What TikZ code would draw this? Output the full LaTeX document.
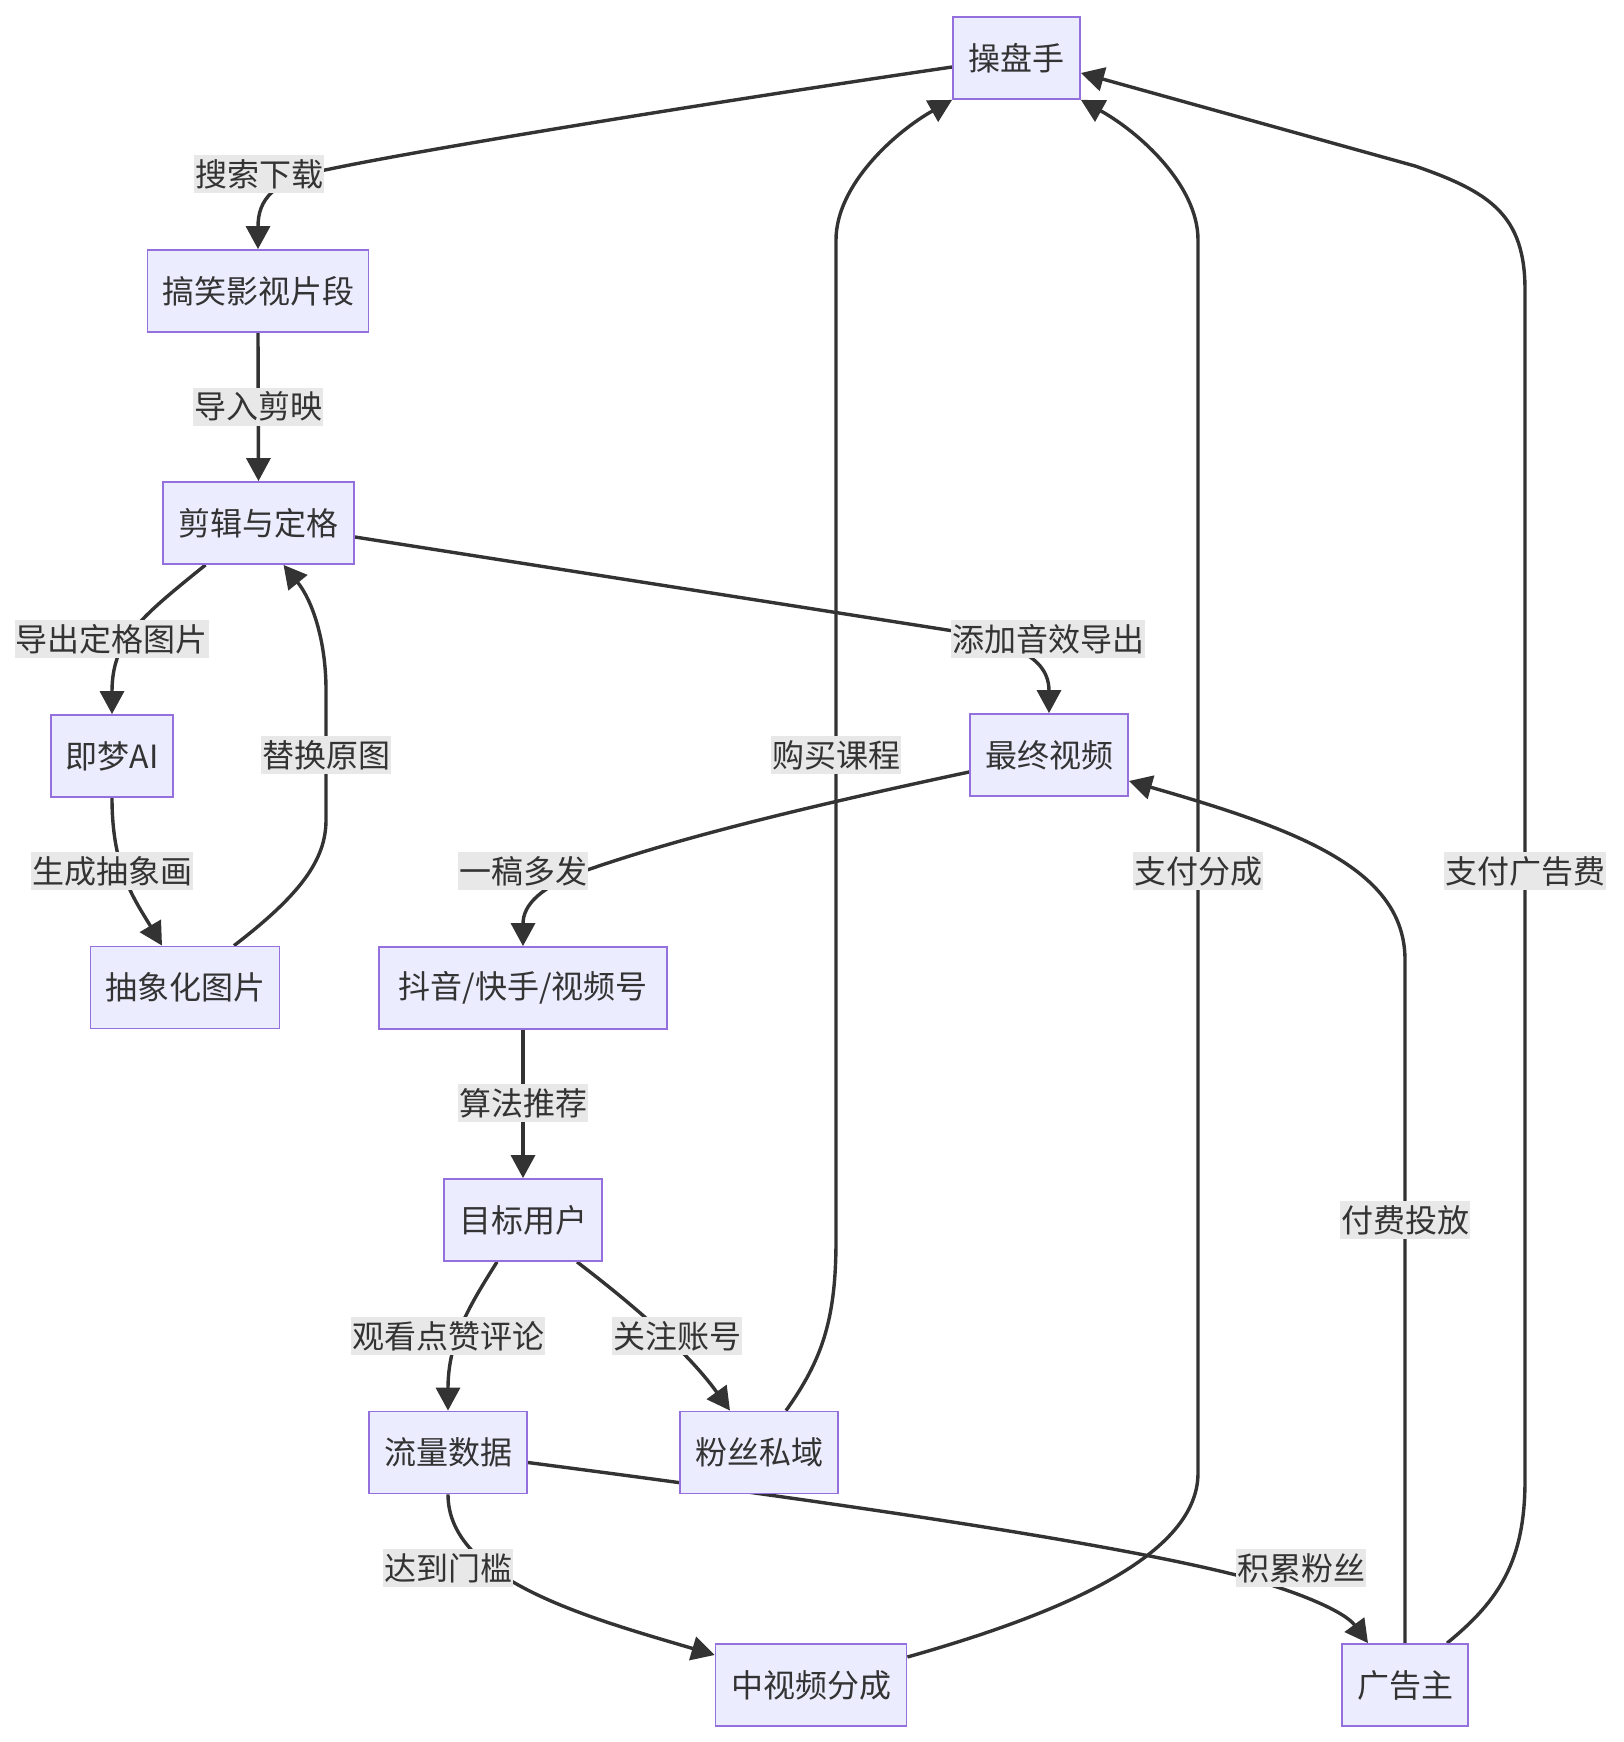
\documentclass[tikz,border=0pt]{standalone}
\usepackage{fontspec}
\setmainfont{Noto Sans CJK SC}
\usetikzlibrary{arrows.meta,calc}
\definecolor{nodefill}{HTML}{ECECFF}
\definecolor{nodeline}{HTML}{9370DB}
\definecolor{ink}{HTML}{333333}
\definecolor{lblbg}{HTML}{E8E8E8}
\pgfdeclarelayer{back}
\pgfdeclarelayer{bg}
\pgfsetlayers{back,bg,main}
\begin{document}
\begin{tikzpicture}[x=1pt,y=-1pt,
  box/.style={draw=nodeline,fill=nodefill,line width=1.8pt,minimum height=82pt,inner sep=0pt,text=ink,font=\fontsize{32pt}{38pt}\selectfont},
  lbl/.style={fill=lblbg,inner xsep=1pt,inner ysep=0pt,minimum height=38pt,text=ink,font=\fontsize{32pt}{38pt}\selectfont},
  edge/.style={draw=ink,line width=3.4pt,-{Triangle[length=23pt,width=24pt]}}
]
\useasboundingbox (0,0) rectangle (1624,1742);
\begin{pgfonlayer}{back}
\fill[white] (0,0) rectangle (1624,1742);
\end{pgfonlayer}

% nodes
\node[box,minimum width=127pt] (n1) at (1016.5,58) {操盘手};
\node[box,minimum width=221pt] (n2) at (258,291) {搞笑影视片段};
\node[box,minimum width=191pt] (n3) at (258.5,523) {剪辑与定格};
\node[box,minimum width=122pt] (n4) at (112,756) {即梦AI};
\node[box,minimum width=189pt] (n5) at (185,987.5) {抽象化图片};
\node[box,minimum width=158pt] (n6) at (1049,755) {最终视频};
\node[box,minimum width=288pt] (n7) at (523,988) {抖音/快手/视频号};
\node[box,minimum width=158pt] (n8) at (523,1220) {目标用户};
\node[box,minimum width=158pt] (n9) at (448,1452.5) {流量数据};
\node[box,minimum width=158pt] (n10) at (759,1452.5) {粉丝私域};
\node[box,minimum width=191pt] (n11) at (811,1685) {中视频分成};
\node[box,minimum width=126pt] (n12) at (1405,1685) {广告主};

% edges
\begin{pgfonlayer}{bg}
\draw[edge] ($(n1.west)+(0,9)$) .. controls (700,104) and (420,150) .. (330,169) .. controls (272,180) and (258,200) .. (n2.north);
\draw[edge] (n2.south) -- (n3.north);
\draw[edge] ($(n3.south)+(-53,0)$) .. controls (140,618) and (112,640) .. (n4.north);
\draw[edge] (n4.south) .. controls (112,870) and (135,900) .. ($(n5.north)+(-23,0)$);
\draw[edge] ($(n5.north)+(49,0)$) .. controls (300,895) and (326,860) .. (326,820) -- (326,690) .. controls (326,640) and (312,600) .. ($(n3.south)+(25,0)$);
\draw[edge] ($(n3.east)+(0,14)$) -- (960,632) .. controls (995,642) and (1049,650) .. (n6.north);
\draw[edge] ($(n6.west)+(0,17)$) .. controls (800,808) and (680,838) .. (590,869) .. controls (540,886) and (523,905) .. (n7.north);
\draw[edge] (n7.south) -- (n8.north);
\draw[edge] ($(n8.south)+(-26,0)$) .. controls (470,1305) and (448,1340) .. (n9.north);
\draw[edge] ($(n8.south)+(54,0)$) .. controls (640,1310) and (690,1355) .. ($(n10.north)+(-29,0)$);
\draw[edge] ($(n10.north)+(27,0)$) .. controls (822,1360) and (836,1320) .. (836,1240) -- (836,240) .. controls (836,185) and (895,132) .. (n1.south west);
\draw[edge] (n9.south) .. controls (448,1580) and (590,1618) .. ($(n11.west)+(0,-30)$);
\draw[edge] ($(n9.east)+(0,10)$) .. controls (800,1498) and (1100,1540) .. (1240,1576) .. controls (1300,1592) and (1345,1612) .. ($(n12.north)+(-37,0)$);
\draw[edge] ($(n11.east)+(0,-28)$) .. controls (1045,1618) and (1198,1560) .. (1198,1473) -- (1198,240) .. controls (1198,185) and (1139,132) .. (n1.south east);
\draw[edge] (n12.north) -- (1405,960) .. controls (1405,870) and (1300,830) .. ($(n6.east)+(0,26)$);
\draw[edge] ($(n12.north)+(42,0)$) .. controls (1500,1600) and (1525,1560) .. (1525,1480) -- (1525,290) .. controls (1525,215) and (1490,192) .. (1415,166) -- ($(n1.east)+(0,15)$);
\end{pgfonlayer}

% edge labels
\node[lbl] (l1) at (259,174) {搜索下载};
\node[lbl] (l2) at (258,406.5) {导入剪映};
\node[lbl] (l3) at (112,639) {导出定格图片};
\node[lbl] (l4) at (112,871) {生成抽象画};
\node[lbl] (l5) at (326,755) {替换原图};
\node[lbl] (l6) at (1048,639) {添加音效导出};
\node[lbl] (l7) at (523,871) {一稿多发};
\node[lbl] (l8) at (523,1103) {算法推荐};
\node[lbl] (l9) at (448,1336) {观看点赞评论};
\node[lbl] (l10) at (677,1336) {关注账号};
\node[lbl] (l11) at (836,755) {购买课程};
\node[lbl] (l12) at (448,1568) {达到门槛};
\node[lbl] (l13) at (1301,1568) {积累粉丝};
\node[lbl] (l14) at (1198,871) {支付分成};
\node[lbl] (l15) at (1405,1220) {付费投放};
\node[lbl] (l16) at (1525,871) {支付广告费};
\end{tikzpicture}
\end{document}
